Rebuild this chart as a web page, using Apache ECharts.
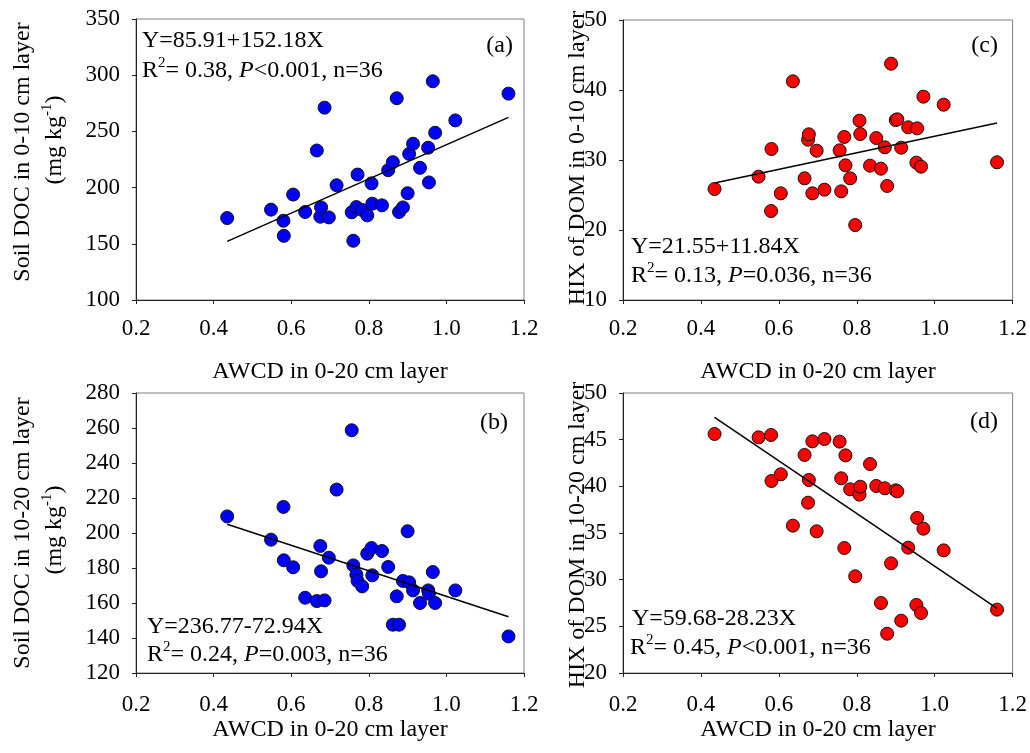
<!DOCTYPE html>
<html>
<head>
<meta charset="utf-8">
<title>AWCD vs DOC and HIX</title>
<script src="https://cdn.jsdelivr.net/npm/echarts@6/dist/echarts.min.js"></script>
<style>
  html, body { margin: 0; padding: 0; background: #fff; }
  #chart { width: 1030px; height: 753px; }
</style>
</head>
<body>
<div id="chart"></div>
<script>
// AWCD (average well colour development) of the 36 soil samples, 0-20 cm layer
const awcd = [0.435, 0.548, 0.580, 0.581, 0.605, 0.636, 0.666, 0.675, 0.677, 0.686,
              0.697, 0.717, 0.756, 0.760, 0.768, 0.771, 0.783, 0.796, 0.807, 0.809,
              0.834, 0.850, 0.862, 0.872, 0.878, 0.888, 0.900, 0.904, 0.914, 0.932,
              0.953, 0.955, 0.965, 0.971, 1.023, 1.160];

// (a) soil DOC, 0-10 cm (mg kg-1)
const docTop = [172.9, 180.4, 170.5, 157.1, 193.8, 178.3, 233.0, 174.1, 182.4, 271.1,
                173.5, 202.1, 178.0, 152.7, 182.7, 211.6, 180.1, 175.3, 203.8, 185.7,
                184.2, 215.5, 222.6, 279.5, 178.3, 182.4, 195.0, 230.0, 239.0, 217.6,
                235.5, 204.6, 294.6, 248.8, 259.8, 283.6];

// (b) soil DOC, 10-20 cm (mg kg-1)
const docSub = [209.5, 196.2, 214.9, 184.4, 180.4, 163.0, 161.1, 192.6, 178.1, 161.5,
                185.9, 224.8, 258.7, 181.5, 176.2, 172.6, 169.5, 188.2, 191.4, 175.8,
                189.7, 180.6, 147.6, 163.8, 147.6, 172.6, 201.0, 171.8, 167.2, 160.0,
                167.2, 165.3, 177.7, 160.0, 167.2, 140.9];

// (c) HIX of DOM, 0-10 cm
const hixTop = [25.86, 27.62, 22.71, 31.57, 25.24, 41.24, 27.38, 32.90, 33.67, 25.24,
                31.33, 25.76, 31.38, 25.52, 33.29, 29.24, 27.38, 20.71, 35.62, 33.71,
                29.19, 33.14, 28.76, 31.81, 26.29, 43.76, 35.70, 35.81, 31.76, 34.67,
                29.62, 34.52, 29.05, 39.05, 37.90, 29.67];

// (d) HIX of DOM, 10-20 cm
const hixSub = [45.61, 45.25, 45.50, 40.57, 41.29, 35.79, 43.36, 38.25, 40.68, 44.82,
                35.18, 45.07, 44.79, 40.86, 33.39, 43.32, 39.68, 30.36, 39.11, 39.96,
                42.39, 40.04, 27.50, 39.79, 24.21, 31.75, 39.57, 39.46, 25.61, 33.43,
                27.29, 36.61, 26.43, 35.46, 33.14, 26.79];

// Linear fits: [intercept, slope], with R2, P and n as printed
const fitA = [85.91, 152.18];
const fitB = [236.77, -72.94];
const fitC = [21.55, 11.84];
const fitD = [59.68, -28.23];
const statsA = ['0.38', '<', '0.001', '36'];
const statsB = ['0.24', '=', '0.003', '36'];
const statsC = ['0.13', '=', '0.036', '36'];
const statsD = ['0.45', '<', '0.001', '36'];

// Axis ranges: [min, max, interval]
const xRange = [0.2, 1.2, 0.2];
const yRangeA = [100, 350, 50];
const yRangeB = [120, 280, 20];
const yRangeC = [10, 50, 10];
const yRangeD = [20, 50, 5];

const panelLetters = ['(a)', '(b)', '(c)', '(d)'];
const xTitle = 'AWCD in 0-20 cm layer';
const yTitles = [
  'Soil DOC in 0-10 cm layer',
  'Soil DOC in 10-20 cm layer',
  'HIX of DOM in 0-10 cm layer',
  'HIX of DOM in 10-20 cm layer'
];
const docUnit = '{n|(mg kg}{sup|-1}{n|)}';

const FONT = '"Liberation Serif", "Times New Roman", serif';
const BLUE = '#0000ff';
const RED = '#ff0000';

const grids = [
  { left: 136, top: 19, width: 388, height: 281 },   // a
  { left: 136, top: 393, width: 388, height: 280 },  // b
  { left: 623, top: 20, width: 390, height: 280 },   // c
  { left: 623, top: 393, width: 390, height: 280 }   // d
];

const richBase = {
  n: { fontFamily: FONT, fontSize: 24, color: '#000', lineHeight: 30 },
  it: { fontFamily: FONT, fontSize: 24, color: '#000', fontStyle: 'italic', lineHeight: 30 },
  sup: { fontFamily: FONT, fontSize: 15, color: '#000', lineHeight: 15, verticalAlign: 'top' }
};

function xAxisFor(i, labelMargin) {
  return {
    type: 'value', gridIndex: i,
    min: xRange[0], max: xRange[1], interval: xRange[2],
    axisLine: { show: true, lineStyle: { color: '#222', width: 1 } },
    axisTick: { show: true, length: 4, lineStyle: { color: '#222' } },
    axisLabel: {
      fontFamily: FONT, fontSize: 23, color: '#000', margin: labelMargin,
      formatter: v => v.toFixed(1)
    },
    splitLine: { show: false }
  };
}

function yAxisFor(i, range) {
  return {
    type: 'value', gridIndex: i,
    min: range[0], max: range[1], interval: range[2],
    axisLine: { show: true, lineStyle: { color: '#222', width: 1 } },
    axisTick: { show: true, length: 4, lineStyle: { color: '#222' } },
    axisLabel: { fontFamily: FONT, fontSize: 23, color: '#000', margin: 16 },
    splitLine: { show: false }
  };
}

function scatterSeries(i, ys, color) {
  return {
    type: 'scatter', xAxisIndex: i, yAxisIndex: i,
    data: awcd.map((x, k) => [x, ys[k]]),
    symbol: 'circle', symbolSize: 13,
    itemStyle: { color: color, borderColor: '#111', borderWidth: 1, opacity: 1 },
    emphasis: { disabled: true },
    z: 3
  };
}

function fitSeries(i, fit) {
  const x0 = Math.min.apply(null, awcd);
  const x1 = Math.max.apply(null, awcd);
  return {
    type: 'line', xAxisIndex: i, yAxisIndex: i,
    data: [[x0, fit[0] + fit[1] * x0], [x1, fit[0] + fit[1] * x1]],
    showSymbol: false, symbol: 'none',
    lineStyle: { color: '#000', width: 1.5 },
    silent: true, animation: false,
    z: 4
  };
}

function equationText(fit) {
  const sign = fit[1] < 0 ? '-' : '+';
  return '{n|Y=' + fit[0].toFixed(2) + sign + Math.abs(fit[1]).toFixed(2) + 'X}';
}

function statsText(s) {
  return '{n|R}{sup|2}{n|= ' + s[0] + ', }{it|P}{n|' + s[1] + s[2] + ', n=' + s[3] + '}';
}

function label(x, y, text, align) {
  return {
    type: 'text', x: x, y: y, silent: true,
    style: {
      text: text, rich: richBase,
      align: align || 'left', verticalAlign: 'middle',
      fontFamily: FONT, fontSize: 24, fill: '#000'
    }
  };
}

function plain(x, y, text, align) {
  return {
    type: 'text', x: x, y: y, silent: true,
    style: {
      text: text, align: align || 'left', verticalAlign: 'middle',
      font: '24px ' + FONT, fill: '#000'
    }
  };
}

// rotated (bottom-to-top) title line centred on (x, y)
function yTitle(x, y, text) {
  return {
    type: 'text', x: x, y: y, rotation: Math.PI / 2, silent: true,
    style: {
      text: text,
      rich: richBase,
      align: 'center', verticalAlign: 'middle'
    }
  };
}

const chart = echarts.init(document.getElementById('chart'), null, { renderer: 'canvas' });

const option = {
  backgroundColor: '#fff',
  animation: false,
  grid: grids.map(g => Object.assign({ show: true, borderColor: '#808080', borderWidth: 1, backgroundColor: 'transparent' }, g)),
  xAxis: [xAxisFor(0, 17), xAxisFor(1, 20), xAxisFor(2, 17), xAxisFor(3, 20)],
  yAxis: [yAxisFor(0, yRangeA), yAxisFor(1, yRangeB), yAxisFor(2, yRangeC), yAxisFor(3, yRangeD)],
  series: [
    scatterSeries(0, docTop, BLUE), fitSeries(0, fitA),
    scatterSeries(1, docSub, BLUE), fitSeries(1, fitB),
    scatterSeries(2, hixTop, RED), fitSeries(2, fitC),
    scatterSeries(3, hixSub, RED), fitSeries(3, fitD)
  ],
  graphic: [
    // equations and statistics
    label(142, 41, equationText(fitA)), label(142, 71, statsText(statsA)),
    label(147, 627, equationText(fitB)), label(147, 655, statsText(statsB)),
    label(631, 247, equationText(fitC)), label(631, 276, statsText(statsC)),
    label(632, 619, equationText(fitD)), label(630, 648, statsText(statsD)),
    // panel letters
    plain(513, 46, panelLetters[0], 'right'),
    plain(508, 423, panelLetters[1], 'right'),
    plain(998, 46, panelLetters[2], 'right'),
    plain(998, 422, panelLetters[3], 'right'),
    // x-axis titles
    plain(330, 372, xTitle, 'center'),
    plain(330, 730, xTitle, 'center'),
    plain(818, 372, xTitle, 'center'),
    plain(818, 730, xTitle, 'center'),
    // y-axis titles
    yTitle(23, 152, '{n|' + yTitles[0] + '}'),
    yTitle(55, 140, docUnit),
    yTitle(23, 533, '{n|' + yTitles[1] + '}'),
    yTitle(55, 530, docUnit),
    yTitle(578, 158, '{n|' + yTitles[2] + '}'),
    yTitle(578, 535, '{n|' + yTitles[3] + '}')
  ]
};

chart.setOption(option);
</script>
</body>
</html>
